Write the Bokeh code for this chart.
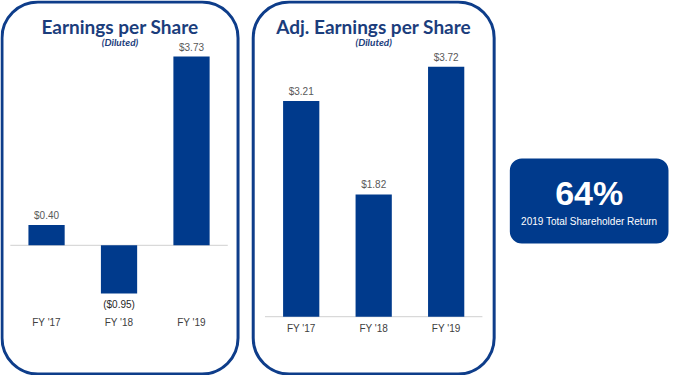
from bokeh.plotting import figure
from bokeh.models import Range1d
from bokeh.embed import file_html
from bokeh.resources import INLINE
from bokeh.core.properties import value

# ---- data ----
categories = ["FY '17", "FY '18", "FY '19"]
eps_values = [0.40, -0.95, 3.73]
eps_labels = ["$0.40", "($0.95)", "$3.73"]
adj_values = [3.21, 1.82, 3.72]
adj_labels = ["$3.21", "$1.82", "$3.72"]
titles = ["Earnings per Share", "Adj. Earnings per Share"]
subtitle = "(Diluted)"
tsr_value = "64%"
tsr_label = "2019 Total Shareholder Return"

# ---- layout ----
W, H = 669, 375
SX = 667 / 681
SY = 373 / 387


def X(rx):
    return 1 + (rx - 2) * SX


def Y(ry):
    return 1 + (ry - 2) * SY


NAVY = "#003A8C"
TITLE = "#1B3D7C"
BORDER = "#0E3D8A"

p = figure(width=W, height=H, x_range=Range1d(0, W), y_range=Range1d(H, 0),
           output_backend="svg", toolbar_location=None, min_border=0,
           x_axis_location=None, y_axis_location=None)
p.grid.visible = False
p.outline_line_color = None
p.background_fill_color = "white"
p.border_fill_color = "white"

# panels
panels = [(2.5, 243.5), (259, 505)]
for (l, r) in panels:
    p.quad(left=X(l), right=X(r), top=Y(2.5), bottom=Y(388.5), border_radius=36,
           fill_color="white", line_color=BORDER, line_width=3)

# charts
charts = [
    dict(name="L", x0=11, x1=233, base=255, k=52.5, vals=eps_values, labs=eps_labels, fy=335, panel=panels[0]),
    dict(name="R", x0=271, x1=493, base=329, k=69.7, vals=adj_values, labs=adj_labels, fy=341, panel=panels[1]),
]
for i, c in enumerate(charts):
    x0, x1 = X(c["x0"]), X(c["x1"])
    slot = (x1 - x0) / len(categories)
    base = Y(c["base"])
    k = c["k"] * SY
    xn, yn = c["name"] + "x", c["name"] + "y"
    p.extra_x_ranges[xn] = Range1d(-x0 / slot, (W - x0) / slot)
    p.extra_y_ranges[yn] = Range1d((base - H) / k, base / k)
    xs = [j + 0.5 for j in range(len(categories))]
    # baseline
    p.segment(x0=[0], x1=[len(categories)], y0=[0], y1=[0], x_range_name=xn, y_range_name=yn,
              line_color="#D9D9D9", line_width=1.2)
    p.vbar(x=xs, top=c["vals"], bottom=0, width=0.5, x_range_name=xn, y_range_name=yn,
           fill_color=NAVY, line_color=None)
    off = 9.5 / k
    ly = [v + off if v >= 0 else v - off - 1.5 / k for v in c["vals"]]
    colors = ["#595959" if v >= 0 else "#262626" for v in c["vals"]]
    p.text(x=xs, y=ly, text=c["labs"], x_range_name=xn, y_range_name=yn,
           text_align="center", text_baseline="middle", text_color=colors,
           text_font=value("Liberation Sans"), text_font_size="10px")
    p.text(x=xs, y=[Y(c["fy"])] * len(xs), text=categories, x_range_name=xn,
           text_align="center", text_baseline="middle", text_color="#404040",
           text_font=value("Liberation Sans"), text_font_size="10px")
    cx = X((c["panel"][0] + c["panel"][1]) / 2)
    p.text(x=[cx], y=[Y(28)], text=[titles[i]], text_align="center", text_baseline="middle",
           text_color=TITLE, text_font=value("Lato"), text_font_style="bold", text_font_size="19px")
    p.text(x=[cx], y=[Y(44)], text=[subtitle], text_align="center", text_baseline="middle",
           text_color=TITLE, text_font=value("Lato"), text_font_style="bold italic", text_font_size="10px")

# TSR box
p.quad(left=X(521), right=X(683), top=Y(165), bottom=Y(253), border_radius=12,
       fill_color=NAVY, line_color=None)
bx = X(602)
p.text(x=[bx], y=[Y(201)], text=[tsr_value], text_align="center", text_baseline="middle",
       text_color="white", text_font=value("Liberation Sans"), text_font_style="bold", text_font_size="34px")
p.text(x=[bx], y=[Y(230)], text=[tsr_label], text_align="center", text_baseline="middle",
       text_color="white", text_font=value("Liberation Sans"), text_font_size="10px")

open("out.html", "w").write(file_html(p, INLINE))
